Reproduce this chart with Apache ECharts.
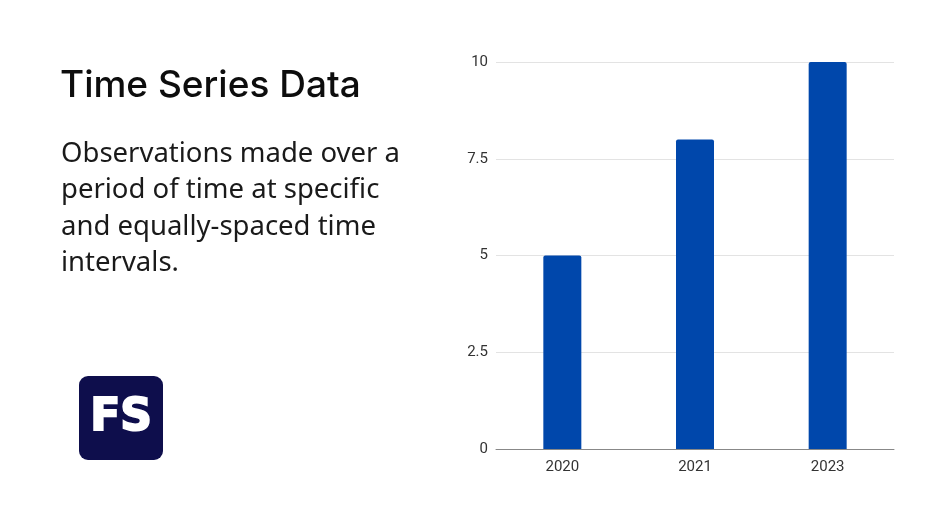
<!DOCTYPE html>
<html><head><meta charset="utf-8">
<script src="https://cdn.jsdelivr.net/npm/echarts@6/dist/echarts.min.js"></script>
<style>html,body{margin:0;padding:0;background:#fff}#c{width:940px;height:529px}</style>
</head><body><div id="c"></div>
<script>
const categories = ['2020', '2021', '2023'];
const values = [5, 8, 10];
const yTicks = [0, 2.5, 5, 7.5, 10];
const titleText = 'Time Series Data';
const bodyLines = ['Observations made over a', 'period of time at specific', 'and equally-spaced time', 'intervals.'];

const chart = echarts.init(document.getElementById('c'), null, {renderer: 'canvas'});
const graphics = [
  {type: 'text', left: 60, top: 67, style: {text: titleText, font: '500 37px Inter', fill: '#0d0d0d'}},
  {type: 'rect', shape: {x: 79, y: 376, width: 84, height: 84, r: 9}, style: {fill: '#0e0e4c'}},
  {type: 'text', x: 121, y: 419, style: {text: 'FS', font: 'bold 44px "DejaVu Sans"', fill: '#fff', align: 'center', verticalAlign: 'middle', stroke: '#fff', lineWidth: 2, shadowColor: 'rgba(190,190,255,1)', shadowBlur: 10}}
];
bodyLines.forEach((t, i) => graphics.push({type: 'text', left: 61, top: 140 + i * 36.5, style: {text: t, font: '400 27.5px "Noto Sans"', fill: '#1a1a1a'}}));

chart.setOption({
  animation: false,
  backgroundColor: '#fff',
  graphic: graphics,
  grid: {left: 496, right: 46, top: 62, bottom: 80},
  xAxis: {
    type: 'category', data: categories,
    axisLine: {lineStyle: {color: '#888', width: 1}},
    axisTick: {show: false},
    axisLabel: {color: '#333', fontSize: 15, fontFamily: 'Roboto', margin: 11}
  },
  yAxis: {
    type: 'value', min: yTicks[0], max: yTicks[yTicks.length - 1], interval: 2.5,
    axisLine: {show: false}, axisTick: {show: false},
    axisLabel: {color: '#333', fontSize: 15, fontFamily: 'Roboto', margin: 8},
    splitLine: {lineStyle: {color: '#e3e3e3', width: 1}}
  },
  series: [{
    type: 'bar', data: values, barWidth: 38,
    itemStyle: {color: '#0047ab', borderRadius: [2, 2, 0, 0]}
  }]
});
</script></body></html>
